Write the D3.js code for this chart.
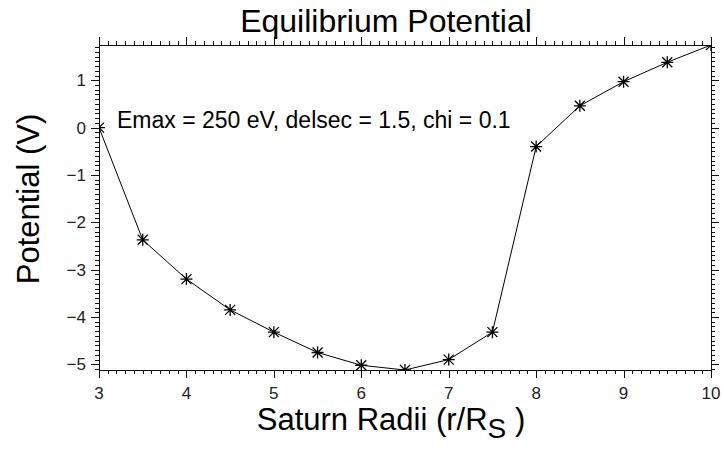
<!DOCTYPE html>
<html>
<head>
<meta charset="utf-8">
<script src="https://cdn.jsdelivr.net/npm/d3@7"></script>
<style>
  body { margin: 0; background: #fff; }
  svg text { font-family: "Liberation Sans", Arial, sans-serif; fill: #000; }
</style>
</head>
<body>
<svg id="chart" width="724" height="458"></svg>
<script>
// values
const radii = [3, 3.5, 4, 4.5, 5, 5.5, 6, 6.5, 7, 7.5, 8, 8.5, 9, 9.5, 10];
const potential = [0, -2.37, -3.2, -3.85, -4.32, -4.75, -5.02, -5.12, -4.9, -4.32, -0.4, 0.46, 0.97, 1.38, 1.745];
const xTicks = [3, 4, 5, 6, 7, 8, 9, 10];
const yTicks = [-5, -4, -3, -2, -1, 0, 1];

const margin = { top: 45, right: 13, bottom: 88, left: 99 };
const width = 724, height = 458;
const svg = d3.select('#chart');

const x = d3.scaleLinear().domain(d3.extent(radii)).range([margin.left, width - margin.right]);
const y = d3.scaleLinear().domain(d3.extent(potential)).range([height - margin.bottom, margin.top]);

const x0 = x.range()[0], x1 = x.range()[1];
const y0 = y.range()[0], y1 = y.range()[1];

const fmt = (d) => (d < 0 ? '\u2212' + Math.abs(d) : String(d));

// minor ticks, 10 divisions per major
const xMinor = d3.range(30, 101).map((d) => d / 10);
const yMinor = d3.range(-51, 18).map((d) => d / 10).filter((d) => d >= y.domain()[0] && d <= y.domain()[1]);

const axisG = svg.append('g')
    .attr('stroke', '#111')
    .attr('stroke-width', 1)
    .attr('shape-rendering', 'crispEdges');

const majLen = 8, minLen = 4;
const isMajor = (v) => Math.abs(v - Math.round(v)) < 1e-6;

// bottom + top ticks
xMinor.forEach((v) => {
    const len = isMajor(v) ? majLen : minLen;
    const px = Math.round(x(v)) + 0.5;
    axisG.append('line').attr('x1', px).attr('x2', px).attr('y1', y0).attr('y2', y0 + len);
    axisG.append('line').attr('x1', px).attr('x2', px).attr('y1', y1).attr('y2', y1 - len);
});
// left + right ticks
yMinor.forEach((v) => {
    const len = isMajor(v) ? majLen : minLen;
    const py = Math.round(y(v)) + 0.5;
    axisG.append('line').attr('x1', x0).attr('x2', x0 - len).attr('y1', py).attr('y2', py);
    axisG.append('line').attr('x1', x1).attr('x2', x1 + len).attr('y1', py).attr('y2', py);
});

axisG.append('rect')
    .attr('x', x0).attr('y', y1)
    .attr('width', x1 - x0).attr('height', y0 - y1)
    .attr('fill', 'none');

// tick labels
svg.append('g').selectAll('text')
    .data(xTicks)
    .enter()
    .append('text')
    .attr('x', (d) => x(d))
    .attr('y', 399)
    .attr('text-anchor', 'middle')
    .style('font-size', '17px')
    .style('fill', '#222')
    .text(fmt);

svg.append('g').selectAll('text')
    .data(yTicks)
    .enter()
    .append('text')
    .attr('x', 86)
    .attr('y', (d) => y(d) + 6)
    .attr('text-anchor', 'end')
    .style('font-size', '17px')
    .style('fill', '#222')
    .text(fmt);

// data line + asterisks clipped to plot box
svg.append('clipPath').attr('id', 'plotclip')
    .append('rect')
    .attr('x', x0).attr('y', y1)
    .attr('width', x1 - x0).attr('height', y0 - y1);

const pts = radii.map((r, i) => [x(r), y(potential[i])]);

const plot = svg.append('g').attr('clip-path', 'url(#plotclip)');

plot.append('path')
    .attr('d', d3.line()(pts))
    .attr('fill', 'none')
    .attr('stroke', '#000')
    .attr('stroke-width', 1);

const r = 6, rd = 5;
const star = (cx, cy) => `M${cx - r},${cy}L${cx + r},${cy}M${cx},${cy - r}L${cx},${cy + r}`
    + `M${cx - rd},${cy - rd}L${cx + rd},${cy + rd}M${cx - rd},${cy + rd}L${cx + rd},${cy - rd}`;

plot.selectAll('.marker')
    .data(pts)
    .enter()
    .append('path')
    .attr('class', 'marker')
    .attr('d', (p) => star(p[0], p[1]))
    .attr('stroke', '#000')
    .attr('stroke-width', 1.3)
    .attr('fill', 'none');

// titles
svg.append('text')
    .attr('x', 386)
    .attr('y', 32)
    .attr('text-anchor', 'middle')
    .style('font-size', '32px')
    .text('Equilibrium Potential');

svg.append('text')
    .attr('transform', 'translate(39,199) rotate(-90)')
    .attr('text-anchor', 'middle')
    .style('font-size', '31px')
    .text('Potential (V)');

const xl = svg.append('text')
    .attr('x', 391)
    .attr('y', 430)
    .attr('text-anchor', 'middle')
    .style('font-size', '31px');
xl.append('tspan').text('Saturn Radii (r/R');
xl.append('tspan').attr('dy', 8).style('font-size', '28px').text('S');
xl.append('tspan').attr('dy', -8).text('\u00a0)');

svg.append('text')
    .attr('x', 117)
    .attr('y', 128)
    .style('font-size', '23px')
    .text('Emax = 250 eV, delsec = 1.5, chi = 0.1');
</script>
</body>
</html>
